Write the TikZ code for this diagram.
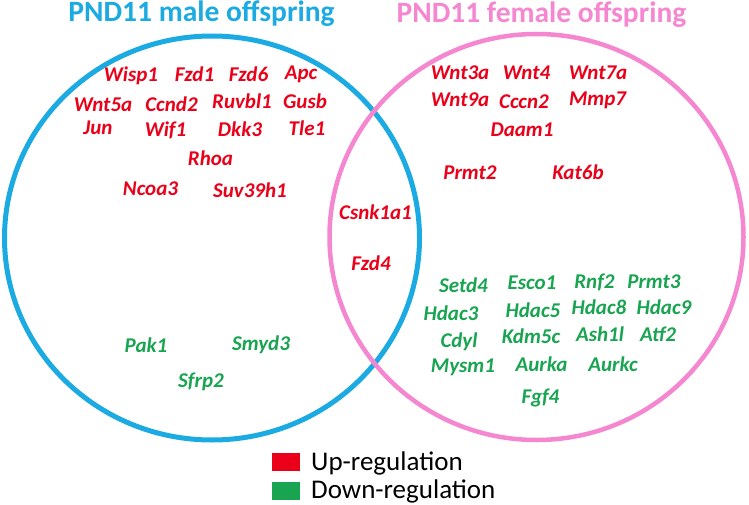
\documentclass[tikz,border=0pt]{standalone}
\usepackage{fontspec}
\setmainfont{Carlito}
\definecolor{malecol}{RGB}{28,170,226}
\definecolor{femcol}{RGB}{245,135,208}
\definecolor{upcol}{RGB}{235,0,25}
\definecolor{downcol}{RGB}{24,164,80}
\tikzset{
	upgene/.style={anchor=base, inner sep=0pt, text=upcol, font=\fontsize{21}{25}\selectfont\bfseries\itshape},
	downgene/.style={anchor=base, inner sep=0pt, text=downcol, font=\fontsize{21}{25}\selectfont\bfseries\itshape},
	settitle/.style={anchor=base, inner sep=0pt, font=\fontsize{29.5}{34}\selectfont\bfseries},
	keybox/.style={draw=none, minimum width=28pt, minimum height=18pt, inner sep=0pt},
	keytext/.style={anchor=base west, inner sep=0pt, font=\fontsize{27}{31}\selectfont}
}

\begin{document}
\begin{tikzpicture}[x=1pt, y=-1pt]
		\useasboundingbox (0,0) rectangle (749,505);

		% the two sets
		\draw[malecol, line width=5pt] (212,238) ellipse [x radius=207.5, y radius=202];
		\draw[femcol, line width=4.5pt] (536.5,237) ellipse [x radius=207, y radius=203];

		\node[settitle, text=malecol] (maletitle) at (201.5,22) {PND11 male offspring};
		\node[settitle, text=femcol] (femtitle) at (541.5,23) {PND11 female offspring};

		% male only, up
		\node[upgene] (wisp1) at (131,82) {Wisp1};
		\node[upgene] (fzd1) at (194.5,82) {Fzd1};
		\node[upgene] (fzd6) at (248.5,82) {Fzd6};
		\node[upgene] (apc) at (301,80) {Apc};
		\node[upgene] (wnt5a) at (103,112) {Wnt5a};
		\node[upgene] (ccnd2) at (171.5,112) {Ccnd2};
		\node[upgene] (ruvbl1) at (242,109) {Ruvbl1};
		\node[upgene] (gusb) at (305,109) {Gusb};
		\node[upgene] (jun) at (98,135) {Jun};
		\node[upgene] (wif1) at (165.5,137) {Wif1};
		\node[upgene] (dkk3) at (240,137) {Dkk3};
		\node[upgene] (tle1) at (307,136) {Tle1};
		\node[upgene] (rhoa) at (210.5,166) {Rhoa};
		\node[upgene] (ncoa3) at (150.5,196) {Ncoa3};
		\node[upgene] (suv39h1) at (250,197) {Suv39h1};

		% male only, down
		\node[downgene] (pak1) at (146,352) {Pak1};
		\node[downgene] (smyd3) at (261,350) {Smyd3};
		\node[downgene] (sfrp2) at (201,387) {Sfrp2};

		% both
		\node[upgene] (csnk1a1) at (375.5,219) {Csnk1a1};
		\node[upgene] (fzd4) at (371,270) {Fzd4};

		% female only, up
		\node[upgene] (wnt3a) at (460,80) {Wnt3a};
		\node[upgene] (wnt4) at (526.5,80) {Wnt4};
		\node[upgene] (wnt7a) at (598,80) {Wnt7a};
		\node[upgene] (wnt9a) at (460,107) {Wnt9a};
		\node[upgene] (cccn2) at (524,109) {Cccn2};
		\node[upgene] (mmp7) at (597.5,106) {Mmp7};
		\node[upgene] (daam1) at (522,137) {Daam1};
		\node[upgene] (prmt2) at (470,180) {Prmt2};
		\node[upgene] (kat6b) at (578,180) {Kat6b};

		% female only, down
		\node[downgene] (setd4) at (463.5,292) {Setd4};
		\node[downgene] (esco1) at (532,289) {Esco1};
		\node[downgene] (rnf2) at (594.5,288) {Rnf2};
		\node[downgene] (prmt3) at (654,288) {Prmt3};
		\node[downgene] (hdac3) at (451,320) {Hdac3};
		\node[downgene] (hdac5) at (533,317) {Hdac5};
		\node[downgene] (hdac8) at (599,314) {Hdac8};
		\node[downgene] (hdac9) at (664,314) {Hdac9};
		\node[downgene] (cdyl) at (459,347) {Cdyl};
		\node[downgene] (kdm5c) at (531,343) {Kdm5c};
		\node[downgene] (ash1l) at (600,341) {Ash1l};
		\node[downgene] (atf2) at (658,341) {Atf2};
		\node[downgene] (mysm1) at (463,372) {Mysm1};
		\node[downgene] (aurka) at (541.5,371) {Aurka};
		\node[downgene] (aurkc) at (613,371) {Aurkc};
		\node[downgene] (fgf4) at (540.5,403) {Fgf4};

		% legend
		\node[keybox, fill=upcol] (upkey) at (286,462) {};
		\node[keybox, fill=downcol] (downkey) at (286,490.5) {};
		\node[keytext] (uplabel) at (311,470) {Up-regulation};
		\node[keytext] (downlabel) at (311,498) {Down-regulation};
	\end{tikzpicture}
\end{document}
